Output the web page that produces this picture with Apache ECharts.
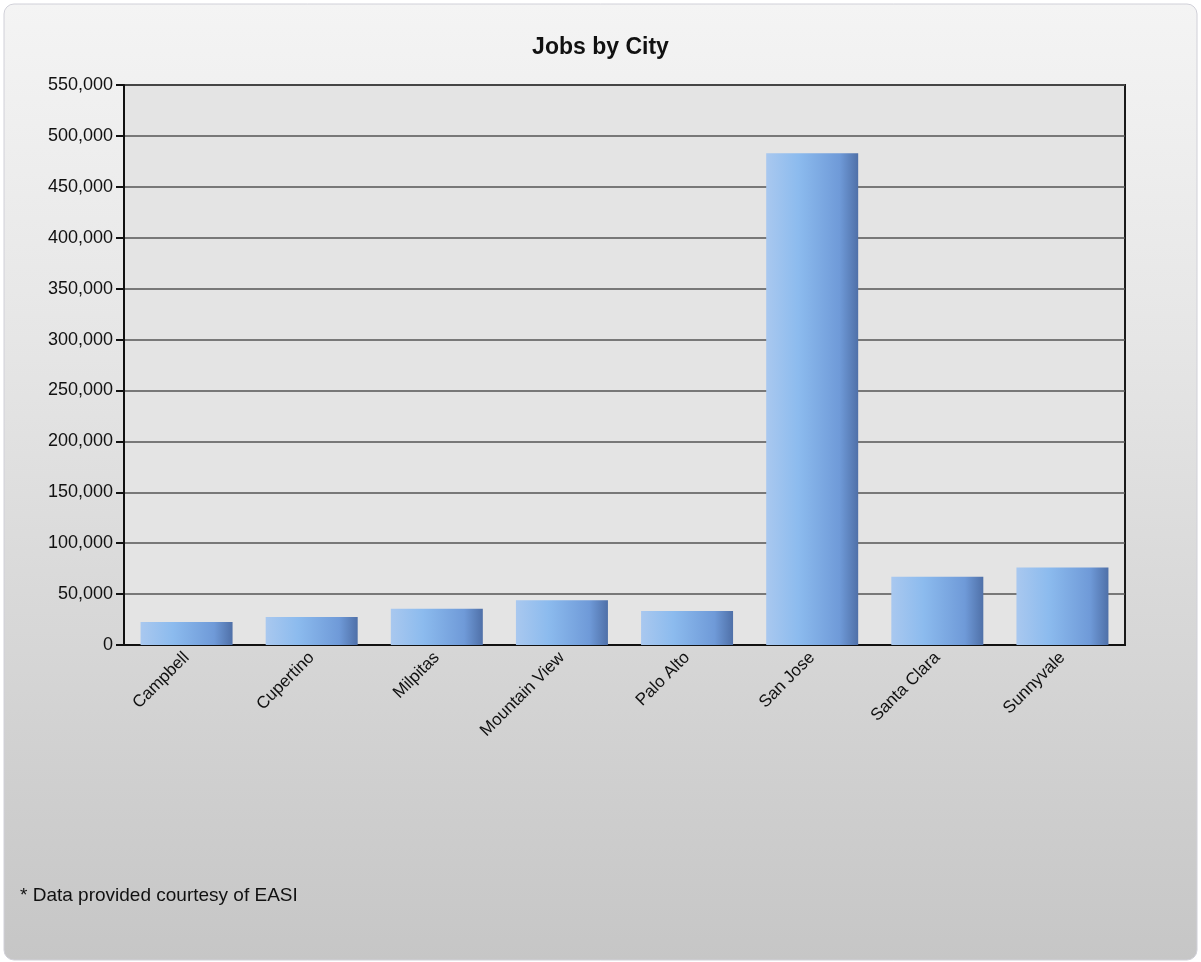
<!DOCTYPE html>
<html>
<head>
<meta charset="utf-8">
<script src="https://cdn.jsdelivr.net/npm/echarts@6/dist/echarts.min.js"></script>
<style>
  html, body { margin: 0; padding: 0; background: #fff; }
  #chart { width: 1201px; height: 962px; }
</style>
</head>
<body>
<div id="chart"></div>
<script>
// cities on the x axis
const cities = ["Campbell", "Cupertino", "Milpitas", "Mountain View", "Palo Alto", "San Jose", "Santa Clara", "Sunnyvale"];
// jobs per city
const jobs = [22500, 27500, 35500, 44000, 33500, 483000, 67000, 76000];
// y axis range
const yTicks = [0, 550000, 50000]; // min, max, step

const myChart = echarts.init(document.getElementById("chart"));

myChart.setOption({
  animation: false,
  textStyle: { fontFamily: "Liberation Sans, Arial, sans-serif" },
  graphic: [
    {
      // outer panel with gradient
      type: "rect",
      z: -10,
      shape: { x: 4, y: 4, width: 1193, height: 956, r: 10 },
      style: {
        fill: new echarts.graphic.LinearGradient(0, 0, 0, 1, [
          { offset: 0, color: "#f4f4f4" },
          { offset: 0.35, color: "#e6e6e6" },
          { offset: 1, color: "#c6c6c6" }
        ]),
        stroke: "#d0d0d8",
        lineWidth: 1
      }
    },
    {
      type: "text",
      left: 20,
      top: 886,
      style: { text: "* Data provided courtesy of EASI", fill: "#111", font: "19px Liberation Sans, Arial, sans-serif" }
    }
  ],
  title: {
    text: "Jobs by City",
    left: "center",
    top: 31,
    textStyle: { fontSize: 23, fontWeight: "bold", color: "#111" }
  },
  grid: {
    left: 124,
    right: 76,
    top: 85,
    bottom: 317,
    show: true,
    backgroundColor: "#e4e4e4",
    borderColor: "#1a1a1a",
    borderWidth: 2
  },
  xAxis: {
    type: "category",
    data: cities,
    axisLine: { lineStyle: { color: "#111", width: 2 } },
    axisTick: { alignWithLabel: true, length: 7, lineStyle: { color: "#111", width: 2 } },
    axisLabel: { rotate: 45, fontSize: 17, color: "#111", margin: 10 }
  },
  yAxis: {
    type: "value",
    min: yTicks[0],
    max: yTicks[1],
    interval: yTicks[2],
    axisLine: { show: true, lineStyle: { color: "#111", width: 2 } },
    axisTick: { show: true, length: 8, lineStyle: { color: "#111", width: 2 } },
    axisLabel: {
      fontSize: 18,
      color: "#111",
      margin: 11,
      formatter: (v) => v.toLocaleString("en-US")
    },
    splitLine: { lineStyle: { color: "#555", width: 1.5 } }
  },
  series: [
    {
      type: "bar",
      data: jobs,
      barWidth: 92,
      itemStyle: {
        color: new echarts.graphic.LinearGradient(0, 0, 1, 0, [
          { offset: 0, color: "#a9c8ef" },
          { offset: 0.35, color: "#8cbbee" },
          { offset: 0.8, color: "#6f9ad8" },
          { offset: 1, color: "#4f70a8" }
        ])
      }
    }
  ]
});
</script>
</body>
</html>
